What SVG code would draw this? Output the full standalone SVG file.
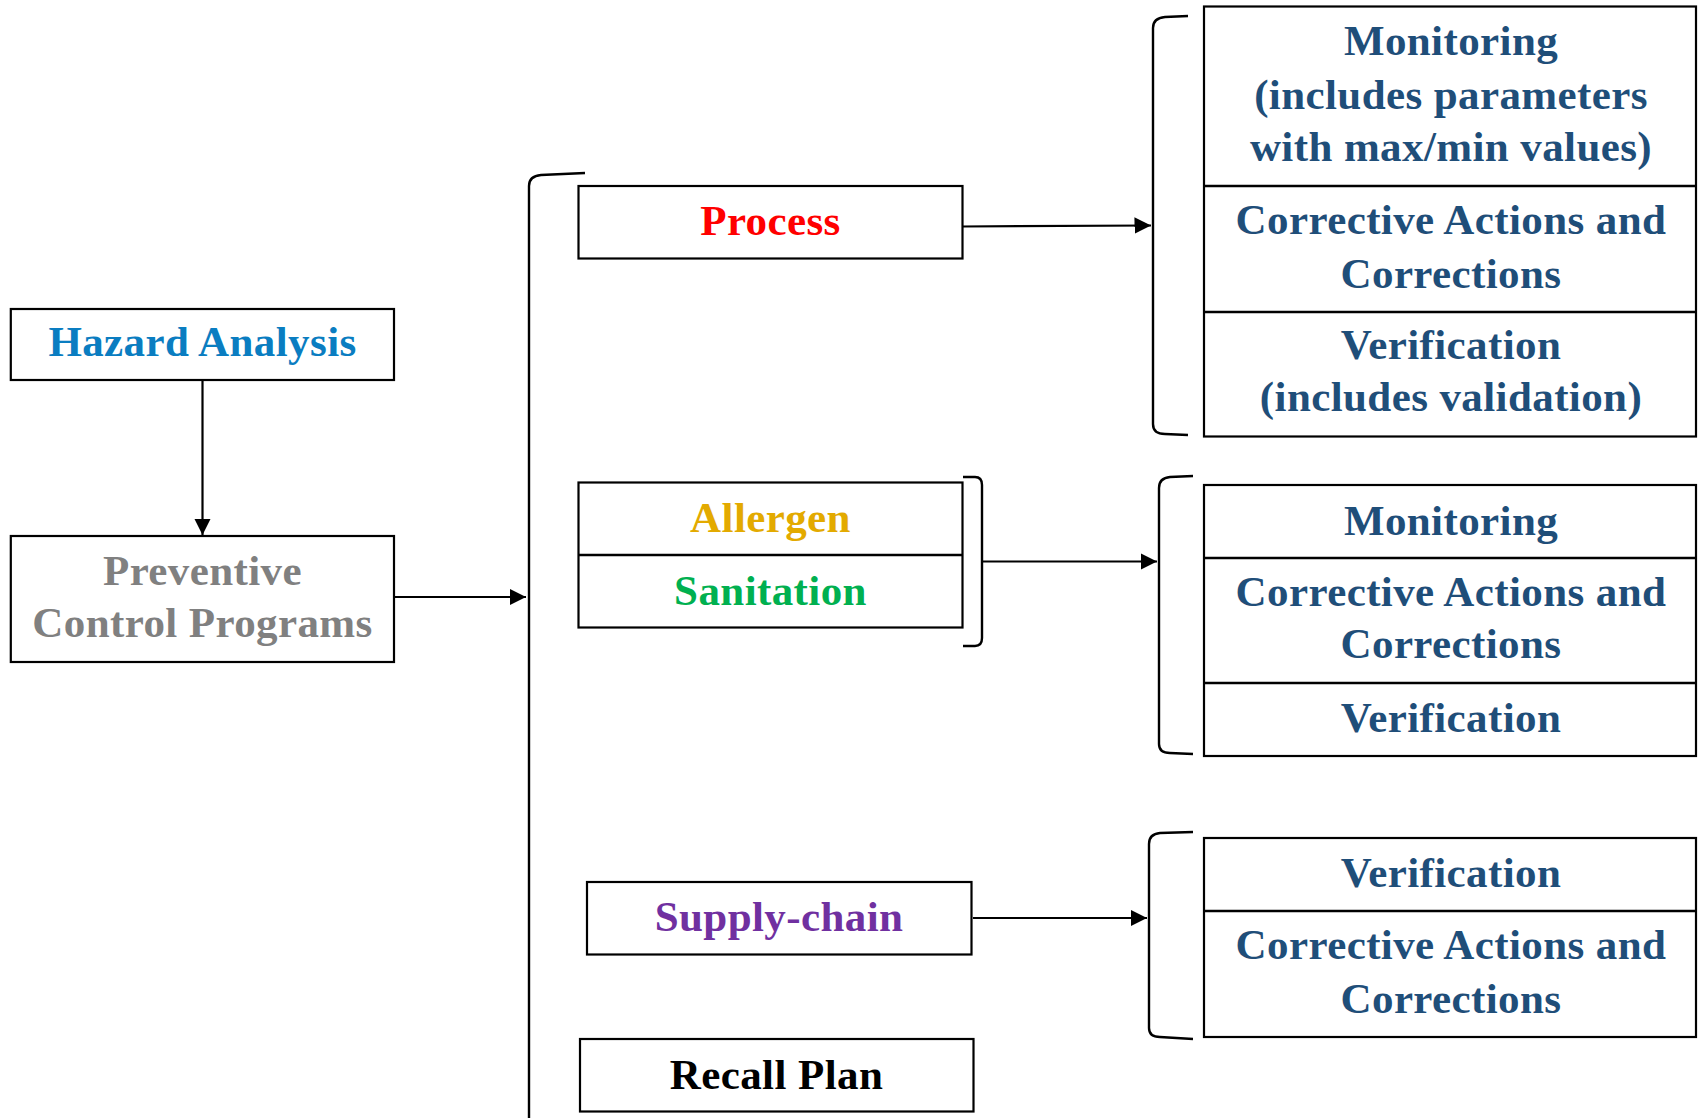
<svg xmlns="http://www.w3.org/2000/svg" width="1698" height="1118" viewBox="0 0 1698 1118">
<style>
  .box { fill: #ffffff; stroke: #000000; stroke-width: 2.2; }
  .div { stroke: #000000; stroke-width: 2.5; fill: none; }
  .brk { fill: none; stroke: #000000; stroke-width: 2.4; }
  .con { fill: none; stroke: #000000; stroke-width: 2.2; marker-end: url(#ah); }
  text { font-family: "Liberation Serif", "Times New Roman", serif; font-weight: bold; font-size: 43px; letter-spacing: 0.4px; text-anchor: middle; }
  .blue { fill: #1f4e79; }
</style>
<defs>
  <marker id="ah" viewBox="0 0 10 10" refX="10" refY="5" markerWidth="7.5" markerHeight="7.5" markerUnits="strokeWidth" orient="auto">
    <path d="M0,0 L10,5 L0,10 Z" fill="#000000"/>
  </marker>
</defs>
<rect x="0" y="0" width="1698" height="1118" fill="#ffffff"/>

<g id="connectors">
  <line class="con" x1="202.5" y1="380" x2="202.5" y2="535"/>
  <line class="con" x1="394" y1="597" x2="526" y2="597"/>
  <line class="con" x1="962" y1="226.5" x2="1151" y2="225.5"/>
  <line class="con" x1="982" y1="561.5" x2="1157" y2="561.5"/>
  <line class="con" x1="973" y1="918" x2="1147" y2="918"/>
  <path class="brk" d="M585,173 L541,175 Q529,176 529,186 L529,1122"/>
  <path class="brk" d="M1188,16 L1165,17 Q1153,18 1153,28 L1153,424 Q1153,434 1165,434 L1188,435"/>
  <path class="brk" d="M963,477 L975,477 Q982,477 982,485 L982,638 Q982,646 975,646 L963,646"/>
  <path class="brk" d="M1193,476 L1170,477 Q1159,478 1159,488 L1159,744 Q1159,753 1170,753 L1193,754"/>
  <path class="brk" d="M1193,832 L1160,833 Q1149,834 1149,844 L1149,1028 Q1149,1037 1160,1037 L1193,1039"/>
</g>

<g id="hazard-analysis">
  <rect class="box" x="10.8" y="309" width="383.2" height="71"/>
  <text x="202.5" y="356" fill="#0a7dc1">Hazard Analysis</text>
</g>

<g id="preventive-control-programs">
  <rect class="box" x="10.8" y="536" width="383.2" height="126"/>
  <text x="202.5" y="585" fill="#808080">Preventive</text>
  <text x="202.5" y="637" fill="#808080">Control Programs</text>
</g>

<g id="process">
  <rect class="box" x="578.5" y="186" width="384" height="72.5"/>
  <text x="770.5" y="235" fill="#ff0000">Process</text>
</g>

<g id="allergen-sanitation">
  <rect class="box" x="578.5" y="482.5" width="384" height="145"/>
  <line class="div" x1="578.5" y1="555" x2="962.5" y2="555"/>
  <text x="770.5" y="532" fill="#e3aa00">Allergen</text>
  <text x="770.5" y="605" fill="#00b050">Sanitation</text>
</g>

<g id="supply-chain">
  <rect class="box" x="587" y="882" width="384.5" height="72.5"/>
  <text x="779" y="931" fill="#7030a0">Supply-chain</text>
</g>

<g id="recall-plan">
  <rect class="box" x="580" y="1039" width="393.5" height="72.5"/>
  <text x="776.5" y="1089" fill="#000000">Recall Plan</text>
</g>

<g id="process-steps">
  <rect class="box" x="1204" y="6.5" width="492" height="430"/>
  <line class="div" x1="1204" y1="186" x2="1696" y2="186"/>
  <line class="div" x1="1204" y1="312" x2="1696" y2="312"/>
  <text class="blue" x="1451" y="55">Monitoring</text>
  <text class="blue" x="1451" y="109">(includes parameters</text>
  <text class="blue" x="1451" y="161">with max/min values)</text>
  <text class="blue" x="1451" y="234">Corrective Actions and</text>
  <text class="blue" x="1451" y="288">Corrections</text>
  <text class="blue" x="1451" y="359">Verification</text>
  <text class="blue" x="1451" y="411">(includes validation)</text>
</g>

<g id="allergen-sanitation-steps">
  <rect class="box" x="1204" y="485" width="492" height="271"/>
  <line class="div" x1="1204" y1="558" x2="1696" y2="558"/>
  <line class="div" x1="1204" y1="683" x2="1696" y2="683"/>
  <text class="blue" x="1451" y="535">Monitoring</text>
  <text class="blue" x="1451" y="606">Corrective Actions and</text>
  <text class="blue" x="1451" y="658">Corrections</text>
  <text class="blue" x="1451" y="732">Verification</text>
</g>

<g id="supply-chain-steps">
  <rect class="box" x="1204" y="838" width="492" height="199"/>
  <line class="div" x1="1204" y1="911" x2="1696" y2="911"/>
  <text class="blue" x="1451" y="887">Verification</text>
  <text class="blue" x="1451" y="959">Corrective Actions and</text>
  <text class="blue" x="1451" y="1013">Corrections</text>
</g>
</svg>
